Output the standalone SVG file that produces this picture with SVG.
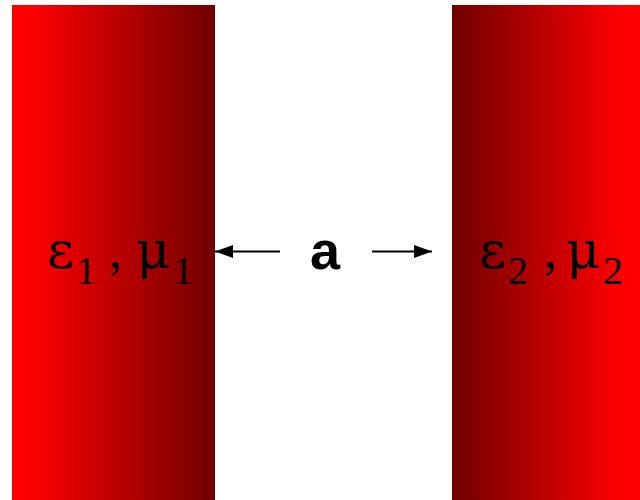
<svg xmlns="http://www.w3.org/2000/svg" width="640" height="500" viewBox="0 0 640 500">
<defs>
<linearGradient id="gL" x1="0" y1="0" x2="1" y2="0">
<stop offset="0" stop-color="#ff0000"/>
<stop offset="0.12" stop-color="#fa0000"/>
<stop offset="1" stop-color="#700000"/>
</linearGradient>
<linearGradient id="gR" x1="0" y1="0" x2="1" y2="0">
<stop offset="0" stop-color="#700000"/>
<stop offset="0.88" stop-color="#fa0000"/>
<stop offset="1" stop-color="#ff0000"/>
</linearGradient>
<marker id="ah" viewBox="0 0 18 13" refX="18" refY="6.5" markerWidth="18" markerHeight="13" markerUnits="userSpaceOnUse" orient="auto">
<path d="M0,0 L18,6.5 L0,13 Z" fill="#000"/>
</marker>
<style>
.g{font-family:"DejaVu Serif","Liberation Serif",serif;fill:#000;font-size:53px}
.c{font-family:"Liberation Serif","Times New Roman",serif;fill:#000;font-size:54px}
.s{font-family:"Liberation Serif","Times New Roman",serif;fill:#000;font-size:40px}
.a{font-family:"Liberation Sans",Arial,sans-serif;font-weight:bold;font-size:54px;fill:#000}
.ln{stroke:#000;stroke-width:2;fill:none}
</style>
</defs>
<g id="medium1">
<rect x="12" y="5" width="203" height="495" fill="url(#gL)"/>
<text class="g" x="47" y="268">ε</text>
<text class="s" x="76" y="284">1</text>
<text class="c" x="109" y="268">,</text>
<text class="g" x="136" y="268">μ</text>
<text class="s" x="173" y="284">1</text>
</g>
<g id="medium2">
<rect x="452" y="5" width="188" height="495" fill="url(#gR)"/>
<text class="g" x="479" y="268">ε</text>
<text class="s" x="508" y="284">2</text>
<text class="c" x="544" y="268">,</text>
<text class="g" x="566" y="268">μ</text>
<text class="s" x="603" y="284">2</text>
</g>
<g id="gap">
<text class="a" x="325" y="269" text-anchor="middle">a</text>
</g>
<g id="connectors">
<line class="ln" x1="280" y1="251.5" x2="215" y2="251.5" marker-end="url(#ah)"/>
<line class="ln" x1="372" y1="251.5" x2="432" y2="251.5" marker-end="url(#ah)"/>
</g>
</svg>
